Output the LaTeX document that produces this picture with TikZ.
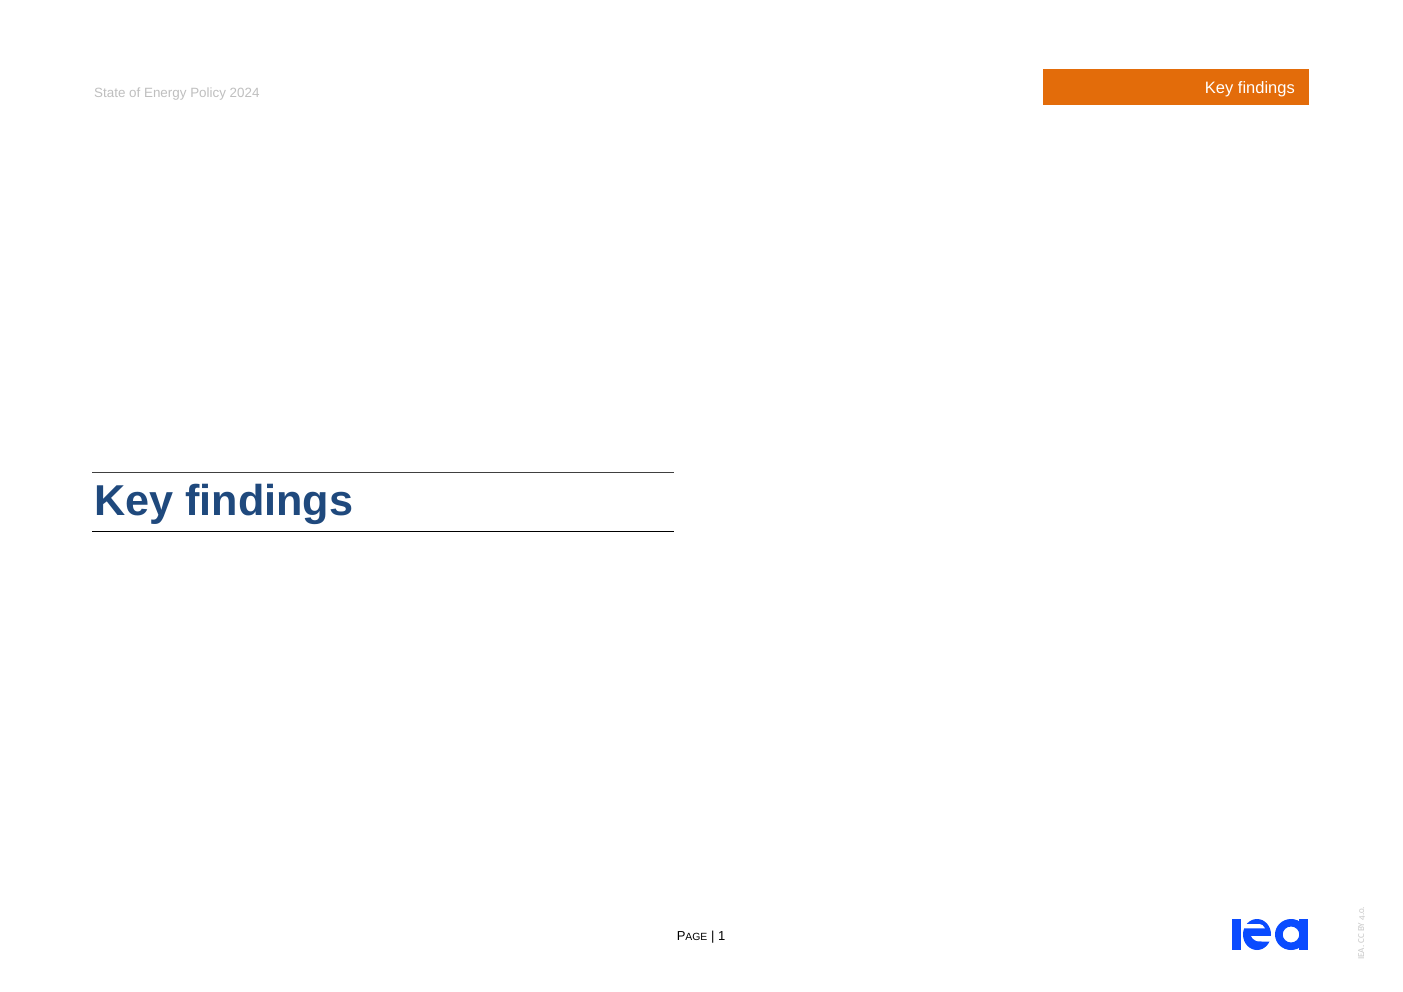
\documentclass[tikz,border=0pt]{standalone}
\usepackage{fontspec}
\setmainfont{Liberation Sans}
\newfontfamily\licfont[Numbers=OldStyle]{Carlito}
\definecolor{ieaorange}{HTML}{E36C0A}
\definecolor{ieablue}{HTML}{1F497D}
\definecolor{logoblue}{HTML}{0A4BFF}
\definecolor{headgrey}{HTML}{BFBFBF}
\definecolor{licgrey}{HTML}{C8C8C8}
\newcommand{\pxfont}[1]{\fontsize{#1pt}{#1pt}\selectfont}
\tikzset{
  x=1pt,y=-1pt,
  label text/.style={inner sep=0pt,anchor=base west},
  rule/.style={draw=black,line width=1pt},
  logo/.style={fill=logoblue,draw=none}
}
\begin{document}
\begin{tikzpicture}
\useasboundingbox (0,0) rectangle (1403,992);
\fill[white] (0,0) rectangle (1403,992);
\node[label text,text=headgrey] (head) at (94,97.5) {\pxfont{13.4}State of Energy Policy 2024};
\fill[ieaorange] (1043,69) rectangle (1309,105.5);
\node[inner sep=0pt,anchor=base east,text=white] (tab) at (1295,93.5) {\pxfont{16.5}Key findings};
\draw[black!75,line width=1pt] (92,472.5) -- (674.2,472.5);
\draw[rule] (92,531.5) -- (674.2,531.5);
\node[label text,text=ieablue] (title) at (94,515) {\pxfont{43.2}\bfseries Key findings};
\node[inner sep=0pt,anchor=base] (page) at (701,940) {\pxfont{13}P\pxfont{10.4}AGE\pxfont{13} | 1};
% logo: i
\fill[logo] (1232,919) rectangle (1240.7,950);
% logo: e
\fill[logo] (1257,934.5) ellipse [x radius=14,y radius=15.5];
\fill[white] (1241.5,924) -- (1258,924) .. controls (1261.5,924) and (1264,925.5) .. (1265,928.3) -- (1241.5,928.3) -- cycle;
\fill[white] (1241,918) rectangle (1246,928.3);
\fill[white] (1251,936) -- (1272,936) -- (1272,941.5) -- (1262,941.5) .. controls (1256.5,942) and (1253,940) .. (1251,936) -- cycle;
% logo: a
\fill[logo,even odd rule] (1291,934.5) ellipse [x radius=16,y radius=15.5] (1291,934.5) ellipse [x radius=8.3,y radius=8];
\fill[logo] (1299.3,919) rectangle (1308,950);
\node[inner sep=0pt,rotate=90,anchor=base west,text=licgrey] (lic) at (1364,960) {\licfont\pxfont{9.1}IEA. CC BY 4.0.};
\end{tikzpicture}
\end{document}
